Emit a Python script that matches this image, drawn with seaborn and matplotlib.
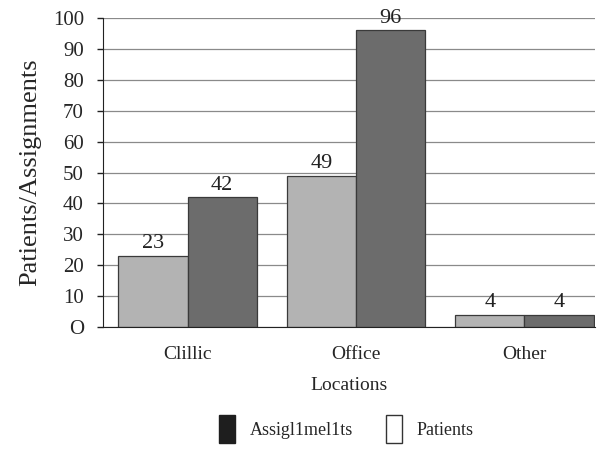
import pandas as pd
import numpy as np
import matplotlib
matplotlib.use('Agg')
import matplotlib.pyplot as plt
import seaborn as sns
from matplotlib.patches import Patch

# data (labels kept as printed)
locations = ['Clillic', 'Office', 'Other']
patients = [23, 49, 4]
assignments = [42, 96, 4]
series_names = ['Patients', 'Assigl1mel1ts']
y_ticks = [0, 10, 20, 30, 40, 50, 60, 70, 80, 90, 100]
y_tick_labels = ['O', '10', '20', '30', '40', '50', '60', '70', '80', '90', '100']

df = pd.DataFrame({
    'location': locations * 2,
    'series': [series_names[0]] * 3 + [series_names[1]] * 3,
    'value': patients + assignments,
})

sns.set_style('white')
plt.rcParams['font.family'] = ['Liberation Serif', 'DejaVu Serif']

light = '#b3b3b3'
dark = '#6c6c6c'

fig = plt.figure(figsize=(5.97, 4.5), dpi=100)
ax = fig.add_axes([0.173, 0.273, 0.824, 0.687])

sns.barplot(data=df, x='location', y='value', hue='series', hue_order=series_names,
            palette=[light, dark], width=0.82, edgecolor='#3a3a3a', linewidth=0.9,
            saturation=1, ax=ax, legend=False)

for c in ax.containers:
    ax.bar_label(c, fontsize=16, padding=2, color='#222222')

ax.set_ylim(0, 100)
ax.set_xlim(-0.5, 2.42)
ax.set_yticks(y_ticks)
ax.set_yticklabels(y_tick_labels, fontsize=15)
ax.yaxis.grid(True, color='#8a8a8a', linewidth=0.9)
ax.set_axisbelow(True)
ax.tick_params(axis='y', left=True, length=4, width=1, color='#222222', pad=10)
ax.tick_params(axis='x', bottom=False, labelsize=14, pad=10)

for s in ['top', 'right']:
    ax.spines[s].set_visible(False)
ax.spines['left'].set_color('#222222')
ax.spines['bottom'].set_color('#222222')

ax.set_ylabel('Patients/Assignments', fontsize=19, labelpad=8)
ax.set_xlabel('Locations', fontsize=14, labelpad=10)

handles = [Patch(facecolor='#1e1e1e', edgecolor='#1e1e1e'),
           Patch(facecolor='white', edgecolor='#333333')]
fig.legend(handles, ['Assigl1mel1ts', 'Patients'], loc='lower center',
           bbox_to_anchor=(0.58, -0.02), ncol=2, frameon=False, fontsize=13,
           handlelength=0.9, handleheight=2.0, handletextpad=0.8, columnspacing=1.8)

plt.savefig('out.png', dpi=100)
